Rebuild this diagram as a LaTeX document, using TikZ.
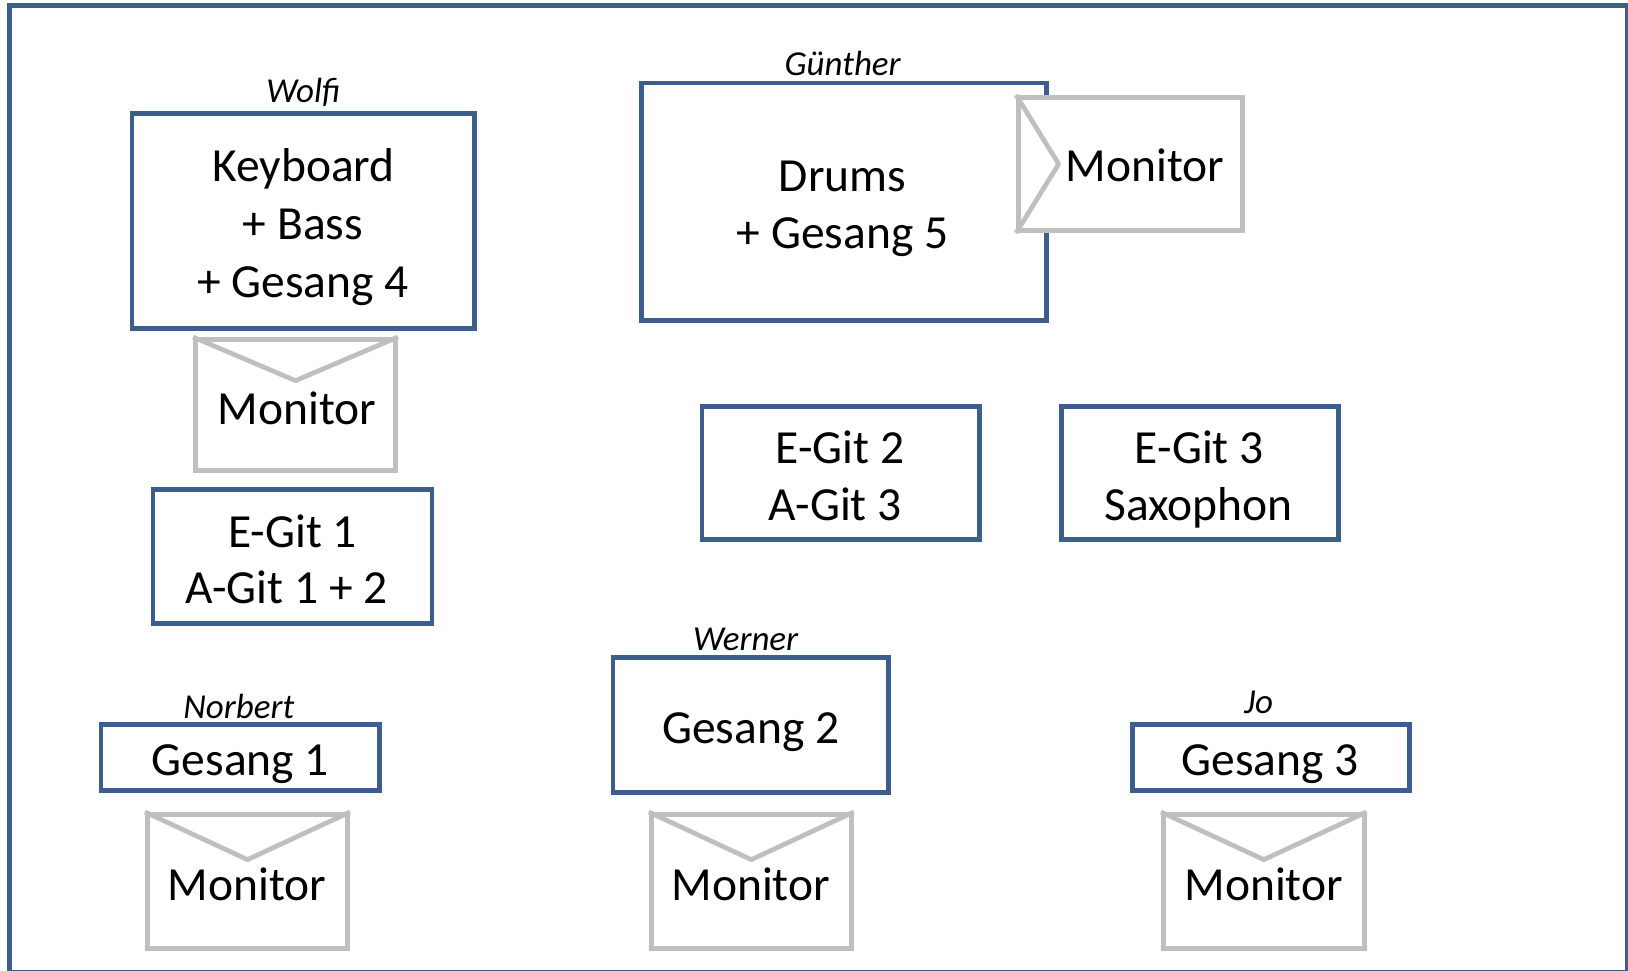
\documentclass[tikz,border=0pt]{standalone}
\usepackage{fontspec}
\setmainfont{Carlito}
\definecolor{boxblue}{HTML}{3B5E8C}
\definecolor{mongray}{HTML}{BFBFBF}
\begin{document}
\begin{tikzpicture}[x=1pt,y=-1pt,
  bbox/.style={draw=boxblue,line width=4.7pt,rectangle,inner sep=0pt,fill=white},
  monbox/.style={draw=mongray,line width=4.7pt,rectangle,inner sep=0pt,fill=white},
  txt/.style={anchor=base,inner sep=0pt,font=\fontsize{47.5}{57}\selectfont},
  who/.style={anchor=base,inner sep=0pt,font=\itshape\fontsize{35}{42}\selectfont}]
\useasboundingbox (0,0) rectangle (1628,971);
% outer frame
\draw[draw=boxblue,line width=5pt] (9.3,5.8) rectangle (1627,972.5);

% Wolfi
\node[bbox,minimum width=342.5pt,minimum height=214.9pt] (kb) at (303.2,220.9) {};
\node[who] (wolfi) at (303.6,103) {Wolfi};
\node[txt] (kb1) at (303.6,182) {Keyboard};
\node[txt] (kb2) at (303,239) {+ Bass};
\node[txt] (kb3) at (303,297) {+ Gesang 4};
\node[monbox,minimum width=200.2pt,minimum height=131.2pt] (mW) at (295.5,405) {};
\draw[draw=mongray,line width=4.7pt,line join=round] (mW.north west) -- ([yshift=-43.6pt]mW.north) -- (mW.north east);
\node[txt] (mWt) at (297,424) {Monitor};

% E-Git 1
\node[bbox,minimum width=279pt,minimum height=134pt] (eg1) at (292.5,556.7) {};
\node[txt] (eg1a) at (292.5,547.3) {E-Git 1};
\node[txt] (eg1b) at (286.5,603.3) {A-Git 1 + 2};

% Guenther
\node[bbox,minimum width=404.5pt,minimum height=237.6pt] (dr) at (844,201.8) {};
\node[who] (guen) at (842.6,75.7) {Günther};
\node[txt] (dr1) at (842.6,191) {Drums};
\node[txt] (dr2) at (842.6,248) {+ Gesang 5};
\node[monbox,minimum width=224.2pt,minimum height=133.2pt] (mG) at (1130.5,164) {};
\draw[draw=mongray,line width=4.7pt,line join=round] (mG.north west) -- ([xshift=42.6pt]mG.west) -- (mG.south west);
\node[txt] (mGt) at (1145,181.7) {Monitor};

% E-Git 2 / 3
\node[bbox,minimum width=277.3pt,minimum height=133.2pt] (eg2) at (840.7,472.9) {};
\node[txt] (eg2a) at (840,463) {E-Git 2};
\node[txt] (eg2b) at (835,520) {A-Git 3};
\node[bbox,minimum width=277.3pt,minimum height=133.2pt] (eg3) at (1200,472.9) {};
\node[txt] (eg3a) at (1199.3,463) {E-Git 3};
\node[txt] (eg3b) at (1198.7,520) {Saxophon};

% Norbert
\node[bbox,minimum width=278.6pt,minimum height=66.2pt] (g1) at (240.3,757.5) {};
\node[who] (norb) at (238.8,718) {Norbert};
\node[txt] (g1t) at (240.4,775) {Gesang 1};
\node[monbox,minimum width=200.2pt,minimum height=134.2pt] (m1) at (247.5,881.5) {};
\draw[draw=mongray,line width=4.7pt,line join=round] (m1.north west) -- ([yshift=-47.6pt]m1.north) -- (m1.north east);
\node[txt] (m1t) at (247,900) {Monitor};

% Werner
\node[bbox,minimum width=275.6pt,minimum height=135.2pt] (g2) at (750.8,725) {};
\node[who] (wern) at (745.6,650) {Werner};
\node[txt] (g2t) at (750.8,743) {Gesang 2};
\node[monbox,minimum width=200.2pt,minimum height=134.2pt] (m2) at (751.3,881.5) {};
\draw[draw=mongray,line width=4.7pt,line join=round] (m2.north west) -- ([yshift=-47.6pt]m2.north) -- (m2.north east);
\node[txt] (m2t) at (750.8,900) {Monitor};

% Jo
\node[bbox,minimum width=277.2pt,minimum height=66.2pt] (g3) at (1271,757.5) {};
\node[who] (jo) at (1258.6,713) {Jo};
\node[txt] (g3t) at (1270,775) {Gesang 3};
\node[monbox,minimum width=200.8pt,minimum height=134.2pt] (m3) at (1263.8,881.5) {};
\draw[draw=mongray,line width=4.7pt,line join=round] (m3.north west) -- ([yshift=-47.6pt]m3.north) -- (m3.north east);
\node[txt] (m3t) at (1263.8,900) {Monitor};
\end{tikzpicture}
\end{document}
